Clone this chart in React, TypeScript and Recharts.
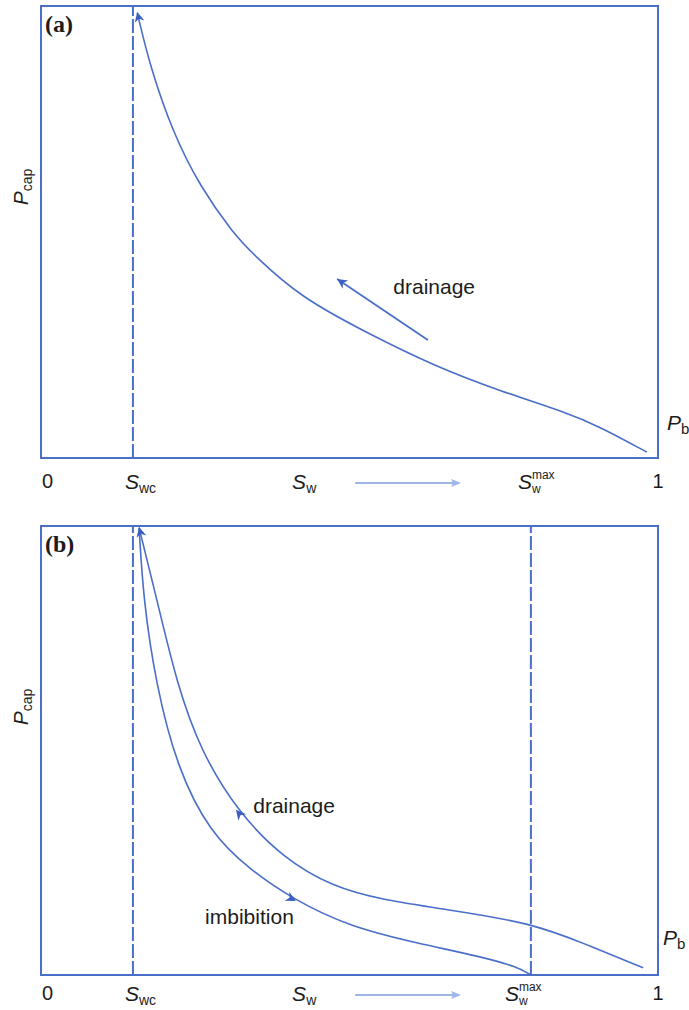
import { LineChart, Line, XAxis, YAxis, ReferenceLine, ReferenceArea, ReferenceDot } from 'recharts'

// saturation positions on the Sw axis (fractions of 0..1)
const SWC = 0.149
const SW_LABEL = 0.407
const SW_MAX = 0.794
const xTicks = [0, SWC, SW_LABEL, SW_MAX, 1]

// panel (a): primary drainage curve
const drainageA = [
  { sw: 0.156, pc: 0.985 },
  { sw: 0.177, pc: 0.865 },
  { sw: 0.214, pc: 0.719 },
  { sw: 0.258, pc: 0.6 },
  { sw: 0.311, pc: 0.498 },
  { sw: 0.345, pc: 0.449 },
  { sw: 0.42, pc: 0.356 },
  { sw: 0.528, pc: 0.277 },
  { sw: 0.635, pc: 0.205 },
  { sw: 0.744, pc: 0.148 },
  { sw: 0.853, pc: 0.1 },
  { sw: 0.906, pc: 0.069 },
  { sw: 0.982, pc: 0.013 },
]
const drainageArrowA = [
  { sw: 0.627, pc: 0.261 },
  { sw: 0.48, pc: 0.396 },
]
const tipA = [
  { sw: 0.161, pc: 0.958 },
  { sw: 0.156, pc: 0.987 },
]

// panel (b): drainage and imbibition (scanning) curves
const drainageB = [
  { sw: 0.159, pc: 0.996 },
  { sw: 0.188, pc: 0.835 },
  { sw: 0.22, pc: 0.65 },
  { sw: 0.258, pc: 0.501 },
  { sw: 0.319, pc: 0.363 },
  { sw: 0.392, pc: 0.261 },
  { sw: 0.473, pc: 0.196 },
  { sw: 0.554, pc: 0.167 },
  { sw: 0.663, pc: 0.145 },
  { sw: 0.794, pc: 0.116 },
  { sw: 0.879, pc: 0.071 },
  { sw: 0.976, pc: 0.016 },
]
const imbibitionB = [
  { sw: 0.159, pc: 0.996 },
  { sw: 0.166, pc: 0.835 },
  { sw: 0.186, pc: 0.65 },
  { sw: 0.22, pc: 0.463 },
  { sw: 0.274, pc: 0.316 },
  { sw: 0.339, pc: 0.234 },
  { sw: 0.408, pc: 0.169 },
  { sw: 0.501, pc: 0.107 },
  { sw: 0.609, pc: 0.071 },
  { sw: 0.716, pc: 0.04 },
  { sw: 0.772, pc: 0.018 },
  { sw: 0.794, pc: 0 },
]
const tipB = [
  { sw: 0.164, pc: 0.969 },
  { sw: 0.159, pc: 0.998 },
]
const drainageTipB = [
  { sw: 0.332, pc: 0.341 },
  { sw: 0.316, pc: 0.368 },
]
const imbibitionTipB = [
  { sw: 0.392, pc: 0.18 },
  { sw: 0.413, pc: 0.165 },
]

// annotation anchors
const notesA = [{ sw: 0.571, pc: 0.363, text: 'drainage' }]
const notesB = [
  { sw: 0.344, pc: 0.361, text: 'drainage' },
  { sw: 0.266, pc: 0.114, text: 'imbibition' },
]
const PB_A = 0.062
const PB_B = 0.067

const BLUE = '#4a6fc8'
const HEAD = '#3b5fc2'
const PALE = '#9db6e6'
const INK = '#1c1c1c'
const FONT = '"Liberation Sans", Arial, sans-serif'

function SwTick(props: any) {
  const { x, y, payload, index, gap, maxDx } = props
  const base = y + gap
  if (index === 0) {
    return <text x={x + 1} y={base} fontSize={20} fill={INK}>0</text>
  }
  if (index === 4) {
    return <text x={x} y={base} fontSize={20} fill={INK} textAnchor="middle">1</text>
  }
  if (index === 1) {
    return (
      <text x={x - 8} y={base + 1} fontSize={21} fill={INK}>
        <tspan fontStyle="italic">S</tspan>
        <tspan fontSize={14} dy={4}>wc</tspan>
      </text>
    )
  }
  if (index === 2) {
    return (
      <g>
        <text x={x} y={base + 1} fontSize={21} fill={INK}>
          <tspan fontStyle="italic">S</tspan>
          <tspan fontSize={14} dy={4}>w</tspan>
        </text>
        <line x1={x + 63} y1={base - 5} x2={x + 161} y2={base - 5} stroke={PALE} strokeWidth={2} />
        <polygon
          points={`${x + 169},${base - 5} ${x + 159},${base - 9} ${x + 161},${base - 5} ${x + 159},${base - 1}`}
          fill={PALE}
        />
      </g>
    )
  }
  // S with stacked superscript "max" and subscript "w"
  const x0 = x + maxDx
  return (
    <g data-v={payload.value}>
      <text x={x0} y={base + 1} fontSize={21} fill={INK}>
        <tspan fontStyle="italic">S</tspan>
      </text>
      <text x={x0 + 14} y={base - 9} fontSize={12} fill={INK}>max</text>
      <text x={x0 + 14} y={base + 5} fontSize={12} fill={INK}>w</text>
    </g>
  )
}

function PcapLabel(props: any) {
  const { viewBox } = props
  const cx = viewBox.x + 28
  const cy = viewBox.y + 181
  return (
    <g transform={`translate(${cx},${cy}) rotate(-90)`}>
      <text x={0} y={0} textAnchor="middle" fontSize={21} fill={INK} fontFamily={FONT}>
        <tspan fontStyle="italic">P</tspan>
        <tspan fontSize={14} dy={4}>cap</tspan>
      </text>
    </g>
  )
}

function Head({ id }: { id: string }) {
  return (
    <defs>
      <marker
        id={id}
        viewBox="0 0 10 10"
        refX={10}
        refY={5}
        markerWidth={13}
        markerHeight={10}
        markerUnits="userSpaceOnUse"
        orient="auto"
      >
        <path d="M0,0 L10,5 L0,10 L3,5 z" fill={HEAD} />
      </marker>
    </defs>
  )
}

function arrowLine(key: string, data: { sw: number; pc: number }[], marker: string, visible = false) {
  return (
    <Line
      key={key}
      data={data}
      dataKey="pc"
      type="linear"
      stroke={BLUE}
      strokeOpacity={visible ? 1 : 0}
      strokeWidth={1.8}
      dot={false}
      activeDot={false}
      markerEnd={`url(#${marker})`}
      isAnimationActive={false}
    />
  )
}

function note(n: { sw: number; pc: number; text: string }) {
  return (
    <ReferenceDot
      key={n.text}
      x={n.sw}
      y={n.pc}
      ifOverflow="visible"
      shape={(p: any) => (
        <text x={p.cx} y={p.cy} fontSize={21} fill={INK} fontFamily={FONT}>
          {n.text}
        </text>
      )}
    />
  )
}

function pbLabel(y: number, dx: number) {
  return (
    <ReferenceDot
      x={1}
      y={y}
      ifOverflow="visible"
      shape={(p: any) => (
        <text x={p.cx + dx} y={p.cy} fontSize={21} fill={INK} fontFamily={FONT}>
          <tspan fontStyle="italic">P</tspan>
          <tspan fontSize={15} dy={4}>b</tspan>
        </text>
      )}
    />
  )
}

function panelLabel(text: string) {
  return (
    <ReferenceDot
      x={0}
      y={1}
      ifOverflow="visible"
      shape={(p: any) => (
        <text
          x={p.cx + 4}
          y={p.cy + 26}
          fontSize={24}
          fontWeight="bold"
          fill={INK}
          fontFamily='"Liberation Serif", "Times New Roman", serif'
        >
          {text}
        </text>
      )}
    />
  )
}

function Frame() {
  return (
    <ReferenceArea x1={0} x2={1} y1={0} y2={1} fill="none" stroke={BLUE} strokeWidth={2} ifOverflow="visible" />
  )
}

export default function App() {
  return (
    <div style={{ position: 'absolute', left: 0, top: 0, width: 689, height: 1010, background: '#fff', fontFamily: FONT }}>
      <div style={{ position: 'absolute', left: 0, top: 0 }}>
        <LineChart width={689} height={505} data={drainageA} margin={{ top: 6, right: 31, bottom: 7, left: 0 }}>
          <Head id="headA" />
          <XAxis
            dataKey="sw"
            type="number"
            domain={[0, 1]}
            ticks={xTicks}
            interval={0}
            height={40}
            axisLine={false}
            tickLine={false}
            tickSize={0}
            tickMargin={0}
            tick={<SwTick gap={30} maxDx={-13} />}
          />
          <YAxis type="number" domain={[0, 1]} width={41} tick={false} axisLine={false} tickLine={false} label={<PcapLabel />} />
          <Frame />
          <ReferenceLine x={SWC} stroke={BLUE} strokeWidth={2} strokeDasharray="14 3" />
          <Line dataKey="pc" type="basis" stroke={BLUE} strokeWidth={1.6} dot={false} activeDot={false} isAnimationActive={false} />
          {arrowLine('tipA', tipA, 'headA')}
          {arrowLine('arrA', drainageArrowA, 'headA', true)}
          {notesA.map(note)}
          {pbLabel(PB_A, 9)}
          {panelLabel('(a)')}
        </LineChart>
      </div>
      <div style={{ position: 'absolute', left: 0, top: 505 }}>
        <LineChart width={689} height={505} data={drainageB} margin={{ top: 21, right: 31, bottom: 5, left: 0 }}>
          <Head id="headB" />
          <XAxis
            dataKey="sw"
            type="number"
            domain={[0, 1]}
            ticks={xTicks}
            interval={0}
            height={30}
            axisLine={false}
            tickLine={false}
            tickSize={0}
            tickMargin={0}
            tick={<SwTick gap={25} maxDx={-26} />}
          />
          <YAxis type="number" domain={[0, 1]} width={41} tick={false} axisLine={false} tickLine={false} label={<PcapLabel />} />
          <Frame />
          <ReferenceLine x={SWC} stroke={BLUE} strokeWidth={2} strokeDasharray="14 3" />
          <ReferenceLine x={SW_MAX} stroke={BLUE} strokeWidth={2} strokeDasharray="14 3" />
          <Line dataKey="pc" type="basis" stroke={BLUE} strokeWidth={1.6} dot={false} activeDot={false} isAnimationActive={false} />
          <Line data={imbibitionB} dataKey="pc" type="basis" stroke={BLUE} strokeWidth={1.6} dot={false} activeDot={false} isAnimationActive={false} />
          {arrowLine('tipB', tipB, 'headB')}
          {arrowLine('dTipB', drainageTipB, 'headB')}
          {arrowLine('iTipB', imbibitionTipB, 'headB')}
          {notesB.map(note)}
          {pbLabel(PB_B, 5)}
          {panelLabel('(b)')}
        </LineChart>
      </div>
    </div>
  )
}
